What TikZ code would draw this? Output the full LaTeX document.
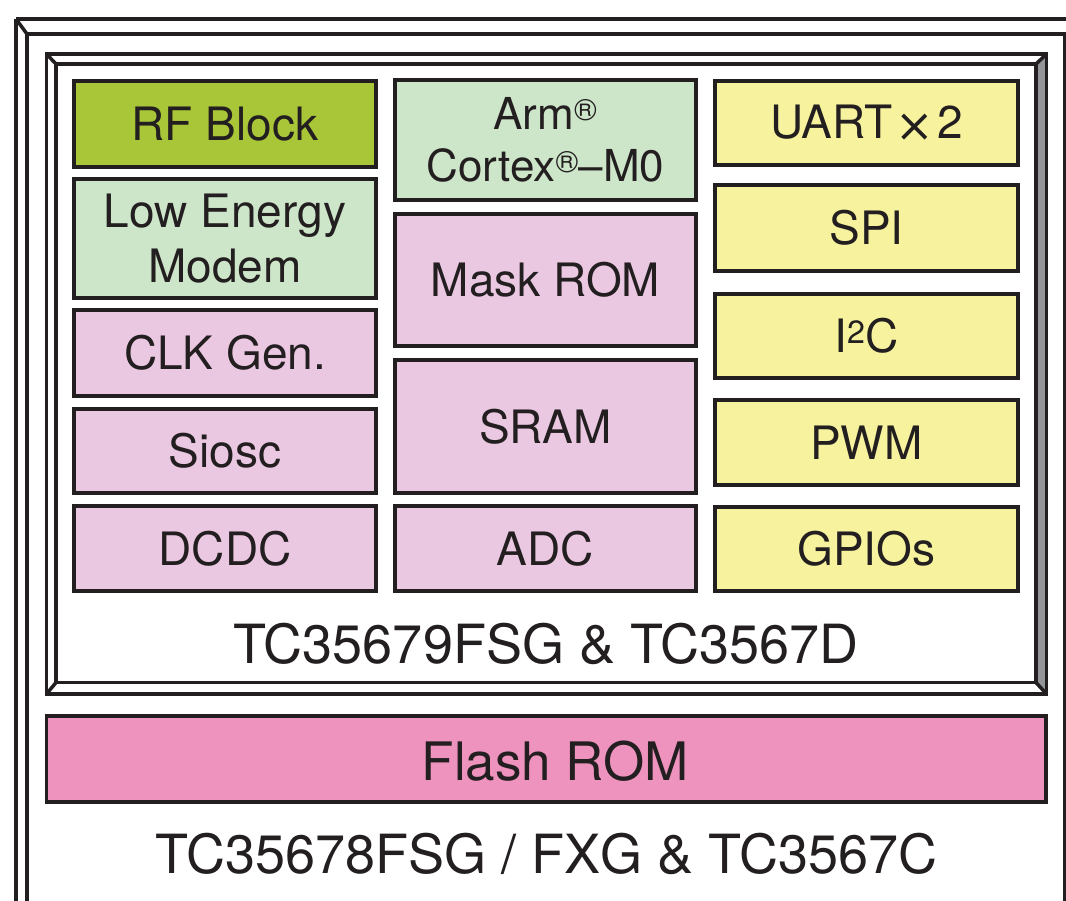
\documentclass[tikz,border=0pt]{standalone}
\usepackage{fontspec}
\setmainfont{TeX Gyre Heros}
\newfontfamily\timesfont{DejaVu Sans}
\usepackage{tikz}
\definecolor{ink}{HTML}{231F20}
\definecolor{rfgreen}{HTML}{A9C538}
\definecolor{lgreen}{HTML}{CDE5C8}
\definecolor{lpink}{HTML}{EBC8E1}
\definecolor{lyellow}{HTML}{F6F29D}
\definecolor{flashpink}{HTML}{EE93BD}
\definecolor{bevelgray}{HTML}{939598}
\tikzset{
	frameline/.style={draw=ink, line width=3.5pt},
	blk/.style={draw=ink, line width=3.8pt, inner sep=0pt, text=ink, align=center, font=\fontsize{46}{55}\selectfont},
	colL/.style={minimum width=302pt},
	colM/.style={minimum width=301pt},
	colR/.style={minimum width=303pt},
	rfblk/.style={blk, fill=rfgreen},
	cpublk/.style={blk, fill=lgreen},
	sysblk/.style={blk, fill=lpink},
	ioblk/.style={blk, fill=lyellow},
	biglabel/.style={text=ink, inner sep=0pt, font=\fontsize{54}{60}\selectfont}
}

\begin{document}
\begin{tikzpicture}[x=1pt, y=-1pt]
		%%%%% START %%%%%
		\useasboundingbox (0,0) rectangle (1066,900);
		\clip (0,0) rectangle (1066,900);
		\fill[white] (0,0) rectangle (1066,900);
		
		% outer package frame
		\draw[frameline] (16,19) -- (1090,19);
		\draw[frameline] (16,19) -- (16,910);
		\draw[frameline] (27,910) -- (27,34) -- (1064.5,34) -- (1064.5,910);
		\draw[frameline] (16,19) -- (27,34);
		
		% chip frame
		\fill[bevelgray] (1036,64) -- (1046.5,54) -- (1046.5,694) -- (1036,682.5) -- cycle;
		\draw[frameline] (46.5,54) rectangle (1046.5,694);
		\draw[frameline] (56,64) rectangle (1036,682.5);
		\draw[frameline] (46.5,54) -- (56,64);
		\draw[frameline] (1046.5,54) -- (1036,64);
		\draw[frameline] (46.5,694) -- (56,682.5);
		\draw[frameline] (1046.5,694) -- (1036,682.5);
		
		% left column
		\node[rfblk, colL, minimum height=86pt] (rf) at (225,124) {RF Block};
		\node[cpublk, colL, minimum height=119pt] (modem) at (225,238.5) {Low Energy\\Modem};
		\node[sysblk, colL, minimum height=86pt] (clk) at (225,353) {CLK Gen.};
		\node[sysblk, colL, minimum height=84pt] (siosc) at (225,451) {Siosc};
		\node[sysblk, colL, minimum height=85pt] (dcdc) at (225,548.5) {DCDC};
		
		% middle column
		\node[cpublk, colM, minimum height=120pt, font=\fontsize{44}{52}\selectfont] (cpu) at (545.5,140) {Arm\textsuperscript{®}\\Cortex\textsuperscript{®}–M0};
		\node[sysblk, colM, minimum height=132pt] (mrom) at (545.5,280) {Mask ROM};
		\node[sysblk, colM, minimum height=133pt] (sram) at (545.5,426.5) {SRAM};
		\node[sysblk, colM, minimum height=85pt] (adc) at (545.5,548.5) {ADC};
		
		% right column
		\node[ioblk, colR, minimum height=84pt] (uart) at (866.5,123) {UART\kern3pt\raisebox{-3pt}{\timesfont ×}\kern3pt2};
		\node[ioblk, colR, minimum height=86pt] (spi) at (866.5,228) {SPI};
		\node[ioblk, colR, minimum height=84pt] (i2c) at (866.5,336) {I\textsuperscript{2}C};
		\node[ioblk, colR, minimum height=85pt] (pwm) at (866.5,442.5) {PWM};
		\node[ioblk, colR, minimum height=84pt] (gpio) at (866.5,549) {GPIOs};
		
		\node[biglabel] (chiplbl) at (546,644) {TC35679FSG \& TC3567D};
		
		% flash and package label
		\node[blk, fill=flashpink, minimum width=999.5pt, minimum height=86pt] (flash) at (546.25,759) {};
		\node[biglabel, font=\fontsize{53}{60}\selectfont] (flashlbl) at ([xshift=9pt, yshift=-2.5pt]flash.center) {Flash ROM};
		\node[biglabel] (pkglbl) at (546.5,854) {TC35678FSG / FXG \& TC3567C};
		%%%%% END %%%%%
\end{tikzpicture}
\end{document}
